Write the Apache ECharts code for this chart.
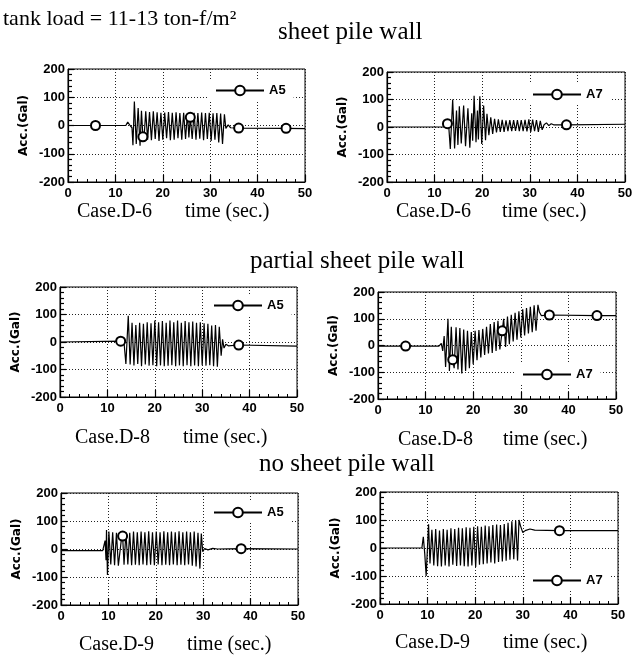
<!DOCTYPE html>
<html>
<head>
<meta charset="utf-8">
<script src="https://cdn.jsdelivr.net/npm/echarts@6/dist/echarts.min.js"></script>
<style>
  html, body { margin: 0; padding: 0; background: #fff; }
  #chart { width: 637px; height: 666px; }
</style>
</head>
<body>
<div id="chart"></div>
<script>
// Acceleration records (Gal) versus time (s) for the tank model tests.
const xTicks = [0, 10, 20, 30, 40, 50];
const yTicks = [-200, -100, 0, 100, 200];

// Case D-6, sheet pile wall
const caseD6_A5 = [
  [0,0],[5.8,0],[12.2,0],[12.6,12],[13.1,0],[13.5,-8],[13.7,-70],[14.0,85],[14.4,-65],[14.8,62],
  [15.2,-72],[15.5,52],[15.8,-40],[16.0,-55],[16.4,50],[16.8,-50],[17.2,48],[17.6,-52],[18.0,50],
  [18.4,-48],[18.8,47],[19.2,-55],[19.6,45],[20.0,-50],[20.4,46],[20.8,-45],[21.2,48],[21.6,-52],
  [22.0,45],[22.4,-50],[22.8,47],[23.2,-45],[23.6,44],[24.0,-50],[24.4,45],[24.8,-48],[25.2,43],
  [25.5,-42],[25.8,29],[26.2,-48],[26.6,45],[27.0,-50],[27.4,44],[27.8,-47],[28.2,46],[28.6,-52],
  [29.0,44],[29.4,-48],[29.8,45],[30.2,-55],[30.6,43],[31.0,-50],[31.4,44],[31.8,-60],[32.2,42],
  [32.6,-65],[33.0,40],[33.3,-10],[33.8,2],[34.3,-8],[36.0,-9],[46.0,-10],[50,-11]
];
const markD6_A5 = [5.8, 15.8, 25.8, 36.0, 46.0];

const caseD6_A7 = [
  [0,0],[10,0],[12.4,0],[12.7,12],[13.0,-5],[13.3,-80],[13.8,100],[14.2,-78],[14.6,60],[14.9,-65],
  [15.2,75],[15.6,-60],[16.1,78],[16.5,-70],[17.0,68],[17.4,-75],[17.8,50],[18.0,-50],[18.3,114],
  [18.7,-55],[19.0,60],[19.2,-45],[19.5,112],[19.9,-62],[20.3,78],[20.7,-48],[21.0,48],[21.4,-30],
  [21.8,35],[22.2,-25],[22.6,30],[23.0,-20],[23.4,28],[23.8,-18],[24.2,26],[24.6,-18],[25.0,24],
  [25.4,-15],[25.8,25],[26.2,-15],[26.6,25],[27.0,-14],[27.4,25],[27.8,-15],[28.2,25],[28.6,-15],
  [29.0,26],[29.4,-16],[29.8,28],[30.2,-18],[30.6,27],[31.0,-15],[31.4,25],[31.8,-18],[32.2,22],
  [32.6,-10],[33.0,8],[33.5,15],[34.0,5],[34.5,12],[35.0,8],[37.7,8],[50,10]
];
const markD6_A7 = [12.7, 37.7];

// Case D-8, partial sheet pile wall
const caseD8_A5 = [
  [0,0],[12.8,3],[13.5,0],[13.9,-80],[14.4,95],[14.8,-82],[15.2,70],[15.6,-85],[16.0,62],[16.4,-80],
  [16.8,70],[17.2,-88],[17.6,66],[18.0,-82],[18.4,72],[18.8,-86],[19.2,68],[19.6,-84],[20.0,78],
  [20.4,-88],[20.8,72],[21.2,-85],[21.6,76],[22.0,-88],[22.4,70],[22.8,-86],[23.2,78],[23.6,-84],
  [24.0,72],[24.4,-88],[24.8,78],[25.2,-85],[25.6,70],[26.0,-88],[26.4,76],[26.8,-84],[27.2,72],
  [27.6,-88],[28.0,74],[28.4,-85],[28.8,70],[29.2,-88],[29.6,72],[30.0,-84],[30.4,68],[30.8,-86],
  [31.2,66],[31.6,-84],[32.0,60],[32.4,-88],[32.8,62],[33.2,-90],[33.6,55],[34.0,-50],[34.3,10],
  [34.6,-22],[35.0,-8],[35.5,-14],[37.7,-11],[50,-15]
];
const markD8_A5 = [12.8, 37.7];

const caseD8_A7 = [
  [0,-2],[5.8,-2],[12.8,-2],[13.3,8],[13.6,-20],[13.9,35],[14.2,-80],[14.7,100],[15.0,-95],[15.4,70],
  [15.7,-53],[16.0,-85],[16.4,68],[16.8,-90],[17.2,65],[17.6,-105],[18.0,60],[18.4,-95],[18.8,55],
  [19.2,-85],[19.6,50],[20.0,-70],[20.4,55],[20.8,-55],[21.2,58],[21.6,-45],[22.0,62],[22.4,-35],
  [22.8,70],[23.2,-30],[23.6,80],[24.0,-28],[24.4,88],[24.8,-20],[25.2,92],[25.6,-15],[26.1,55],
  [26.4,100],[26.8,-5],[27.2,108],[27.6,5],[28.0,115],[28.4,15],[28.8,122],[29.2,22],[29.6,128],
  [30.0,30],[30.4,135],[30.8,38],[31.2,140],[31.6,45],[32.0,145],[32.4,50],[32.8,150],[33.2,55],
  [33.6,152],[33.9,125],[34.3,112],[36.0,114],[46.0,112],[50,112]
];
const markD8_A7 = [5.8, 15.7, 26.1, 36.0, 46.0];

// Case D-9, no sheet pile wall
const caseD9_A5 = [
  [0,-6],[8.8,-6],[9.1,-2],[9.3,30],[9.5,-40],[9.6,68],[9.8,-93],[10.1,62],[10.5,-55],[10.9,60],
  [11.3,-58],[11.7,58],[12.1,-60],[12.5,-58],[12.9,58],[13.0,46],[13.3,-56],[13.7,60],[14.1,-55],
  [14.5,58],[14.9,-58],[15.3,62],[15.7,-56],[16.1,60],[16.5,-58],[16.9,62],[17.3,-55],[17.7,60],
  [18.1,-58],[18.5,63],[18.9,-56],[19.3,60],[19.7,-58],[20.1,62],[20.5,-55],[20.9,60],[21.3,-58],
  [21.7,63],[22.1,-56],[22.5,60],[22.9,-58],[23.3,62],[23.7,-55],[24.1,60],[24.5,-58],[24.9,63],
  [25.3,-56],[25.7,60],[26.1,-58],[26.5,62],[26.9,-55],[27.3,60],[27.7,-60],[28.1,62],[28.5,-62],
  [28.9,58],[29.3,-70],[29.6,55],[29.9,-10],[30.3,2],[31.0,-3],[32.0,2],[33.0,0],[38.0,1],[50,0]
];
const markD9_A5 = [13.0, 38.0];

const caseD9_A7 = [
  [0,0],[8.8,0],[9.1,40],[9.4,-20],[9.7,-100],[10.2,85],[10.5,-55],[10.9,65],[11.3,-62],[11.7,68],
  [12.1,-65],[12.5,62],[12.9,-66],[13.3,68],[13.7,-62],[14.1,65],[14.5,-66],[14.9,70],[15.3,-60],
  [15.7,68],[16.1,-64],[16.5,72],[16.9,-62],[17.3,70],[17.7,-65],[18.1,74],[18.5,-66],[18.9,72],
  [19.3,-62],[19.7,76],[20.1,-68],[20.5,78],[20.9,-60],[21.3,76],[21.7,-58],[22.1,80],[22.5,-55],
  [22.9,78],[23.3,-52],[23.7,82],[24.1,-55],[24.5,84],[24.9,-50],[25.3,82],[25.7,-48],[26.1,86],
  [26.5,-45],[26.9,90],[27.3,-42],[27.7,95],[28.1,-40],[28.5,98],[28.9,-45],[29.2,100],[29.5,80],
  [30.0,55],[30.5,62],[31.5,68],[32.5,64],[37.7,62],[50,62]
];
const markD9_A7 = [37.7];

const serif = 'Liberation Serif';
const sans = 'Liberation Sans';

const panels = [
  { name: 'A5', data: caseD6_A5, marks: markD6_A5, caseText: 'Case.D-6',
    grid: { left: 68, top: 69, width: 237, height: 113 }, legend: { left: 209, top: 80 },
    caseX: 77, timeX: 185, labelY: 212 },
  { name: 'A7', data: caseD6_A7, marks: markD6_A7, caseText: 'Case.D-6',
    grid: { left: 387, top: 72, width: 238, height: 110 }, legend: { left: 526, top: 84 },
    caseX: 396, timeX: 502, labelY: 212 },
  { name: 'A5', data: caseD8_A5, marks: markD8_A5, caseText: 'Case.D-8',
    grid: { left: 60, top: 287, width: 237, height: 110 }, legend: { left: 207, top: 295 },
    caseX: 75, timeX: 183, labelY: 438 },
  { name: 'A7', data: caseD8_A7, marks: markD8_A7, caseText: 'Case.D-8',
    grid: { left: 378, top: 292, width: 238, height: 107 }, legend: { left: 516, top: 364 },
    caseX: 398, timeX: 503, labelY: 440 },
  { name: 'A5', data: caseD9_A5, marks: markD9_A5, caseText: 'Case.D-9',
    grid: { left: 61, top: 493, width: 237, height: 112 }, legend: { left: 207, top: 502 },
    caseX: 79, timeX: 187, labelY: 645 },
  { name: 'A7', data: caseD9_A7, marks: markD9_A7, caseText: 'Case.D-9',
    grid: { left: 380, top: 492, width: 238, height: 112 }, legend: { left: 526, top: 570 },
    caseX: 395, timeX: 503, labelY: 643 }
];

const tickFont = { fontFamily: sans, fontWeight: 'bold', fontSize: 13, color: '#000' };
const gridLine = { show: true, lineStyle: { color: '#222', width: 1, type: [1, 2] } };

const option = {
  animation: false,
  backgroundColor: '#fff',
  grid: [], xAxis: [], yAxis: [], series: [], legend: [],
  graphic: []
};

panels.forEach((p, i) => {
  option.grid.push(Object.assign({ show: true, borderColor: '#000', borderWidth: 1, backgroundColor: 'transparent' }, p.grid));
  option.xAxis.push({
    type: 'value', gridIndex: i, min: xTicks[0], max: xTicks[xTicks.length - 1], interval: 10,
    axisLine: { show: true, onZero: false, lineStyle: { color: '#000', width: 1.2 } },
    axisTick: { show: true, inside: true, length: 7, lineStyle: { color: '#000', width: 1.2 } },
    minorTick: { show: true, splitNumber: 5, length: 3, lineStyle: { color: '#000' } },
    axisLabel: Object.assign({ margin: 5 }, tickFont),
    splitLine: gridLine
  });
  option.yAxis.push({
    type: 'value', gridIndex: i, min: yTicks[0], max: yTicks[yTicks.length - 1], interval: 100,
    name: 'Acc.(Gal)', nameLocation: 'middle', nameGap: 38, nameRotate: 90,
    nameTextStyle: { fontFamily: 'DejaVu Sans', fontWeight: 'bold', fontSize: 12, color: '#000' },
    axisLine: { show: true, onZero: false, lineStyle: { color: '#000', width: 1.2 } },
    axisTick: { show: true, inside: true, length: 6, lineStyle: { color: '#000', width: 1.2 } },
    minorTick: { show: true, splitNumber: 5, length: 4, lineStyle: { color: '#000', width: 1.2 } },
    axisLabel: Object.assign({ margin: 3 }, tickFont),
    splitLine: gridLine
  });
  const markSet = new Set(p.marks);
  option.series.push({
    type: 'line', name: p.name, xAxisIndex: i, yAxisIndex: i,
    symbol: 'emptyCircle', symbolSize: 9, showSymbol: true, showAllSymbol: true,
    lineStyle: { color: '#000', width: 1.2 },
    itemStyle: { color: '#000', borderColor: '#000', borderWidth: 1.2 },
    emphasis: { disabled: true },
    silent: true,
    data: p.data.map(d => markSet.has(d[0]) ? { value: d } : { value: d, symbol: 'none' })
  });
  option.legend.push({
    data: [p.name], left: p.legend.left, top: p.legend.top,
    selectedMode: false, backgroundColor: '#fff', padding: [4, 8, 4, 6],
    itemWidth: 48, itemHeight: 12,
    textStyle: { fontFamily: sans, fontWeight: 'bold', fontSize: 13, color: '#000' }
  });
  option.graphic.push(
    { type: 'text', x: p.caseX, y: p.labelY,
      style: { text: p.caseText, font: '20px "' + serif + '"', fill: '#000', align: 'left', verticalAlign: 'middle' } },
    { type: 'text', x: p.timeX, y: p.labelY,
      style: { text: 'time (sec.)', font: '20px "' + serif + '"', fill: '#000', align: 'left', verticalAlign: 'middle' } }
  );
});

option.graphic.push(
  { type: 'text', x: 3, y: 19,
    style: { text: 'tank load = 11-13 ton-f/m²', font: '22px "' + serif + '"', fill: '#000', align: 'left', verticalAlign: 'middle' } },
  { type: 'text', x: 278, y: 32,
    style: { text: 'sheet pile wall', font: '25px "' + serif + '"', fill: '#000', align: 'left', verticalAlign: 'middle' } },
  { type: 'text', x: 250, y: 261,
    style: { text: 'partial sheet pile wall', font: '25px "' + serif + '"', fill: '#000', align: 'left', verticalAlign: 'middle' } },
  { type: 'text', x: 259, y: 464,
    style: { text: 'no sheet pile wall', font: '25px "' + serif + '"', fill: '#000', align: 'left', verticalAlign: 'middle' } }
);

const chart = echarts.init(document.getElementById('chart'), null, { renderer: 'canvas' });
chart.setOption(option);
</script>
</body>
</html>
